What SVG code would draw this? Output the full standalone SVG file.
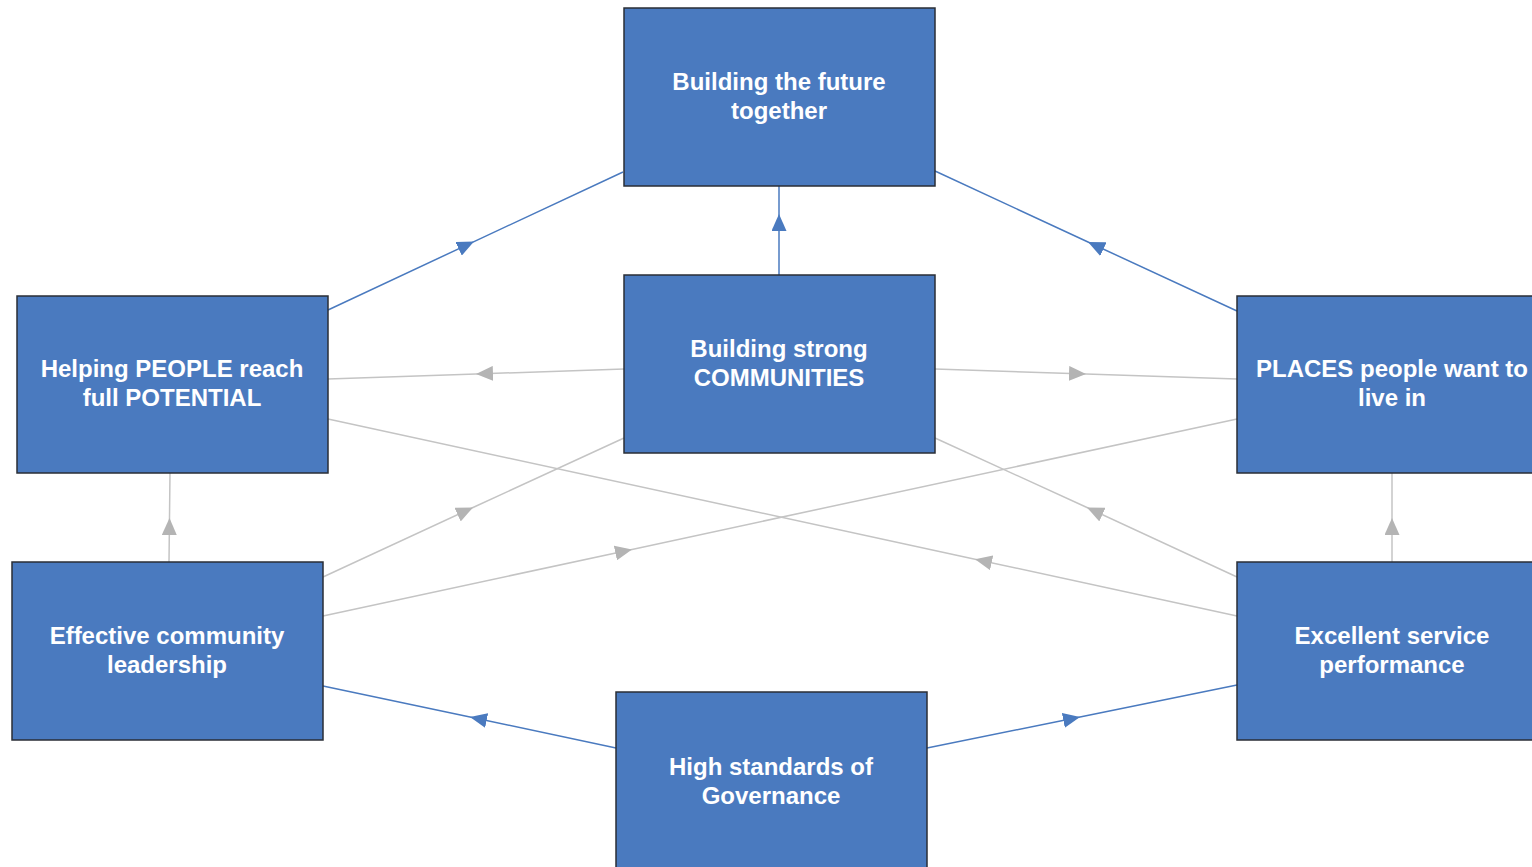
<svg xmlns="http://www.w3.org/2000/svg" width="1532" height="867" viewBox="0 0 1532 867">
<style>
.box{fill:#4a7abf;stroke:#2a2e36;stroke-width:1.5}
.lbl{font-family:"Liberation Sans",Arial,sans-serif;font-weight:bold;font-size:24px;fill:#ffffff;text-anchor:middle}
.cb{fill:none;stroke:#4a7abf;stroke-width:1.5;marker-mid:url(#ab)}
.cg{fill:none;stroke:#c4c4c4;stroke-width:1.5;marker-mid:url(#ag)}
</style>
<defs>
<marker id="ab" markerUnits="userSpaceOnUse" markerWidth="18" markerHeight="15" refX="17" refY="7.5" orient="auto"><path d="M0,0 L17,7.5 L0,15 z" fill="#4a7abf"/></marker>
<marker id="ag" markerUnits="userSpaceOnUse" markerWidth="18" markerHeight="15" refX="17" refY="7.5" orient="auto"><path d="M0,0 L17,7.5 L0,15 z" fill="#b4b4b4"/></marker>
</defs>
<rect width="1532" height="867" fill="#ffffff"/>
<g id="connectors">
<path class="cb" d="M328,310 L474,241.6 L623,172"/>
<path class="cb" d="M1237,311 L1088,242 L935,171"/>
<path class="cb" d="M779,275 L779,214 L779,186"/>
<path class="cb" d="M616,748 L470,717 L323,686"/>
<path class="cb" d="M927,748 L1080,717 L1237,685"/>
<path class="cg" d="M624,369 L476,374 L328,379"/>
<path class="cg" d="M935,369 L1086,374 L1237,379"/>
<path class="cg" d="M323,577 L473,507.5 L624,438"/>
<path class="cg" d="M1237,577 L1087,507.5 L935,438"/>
<path class="cg" d="M323,616 L632,549.4 L1237,419"/>
<path class="cg" d="M1237,616 L975,559.2 L328,419"/>
<path class="cg" d="M169,562 L169.5,518 L170,473"/>
<path class="cg" d="M1392,562 L1392,518 L1392,473"/>
</g>
<g id="n-future"><rect class="box" x="624" y="8" width="311" height="178"/><text class="lbl" x="779" y="90">Building the future</text><text class="lbl" x="779" y="119">together</text></g>
<g id="n-communities"><rect class="box" x="624" y="275" width="311" height="178"/><text class="lbl" x="779" y="357">Building strong</text><text class="lbl" x="779" y="386">COMMUNITIES</text></g>
<g id="n-people"><rect class="box" x="17" y="296" width="311" height="177"/><text class="lbl" x="172" y="377">Helping PEOPLE reach</text><text class="lbl" x="172" y="406">full POTENTIAL</text></g>
<g id="n-places"><rect class="box" x="1237" y="296" width="311" height="177"/><text class="lbl" x="1392" y="377">PLACES people want to</text><text class="lbl" x="1392" y="406">live in</text></g>
<g id="n-leadership"><rect class="box" x="12" y="562" width="311" height="178"/><text class="lbl" x="167" y="644">Effective community</text><text class="lbl" x="167" y="673">leadership</text></g>
<g id="n-service"><rect class="box" x="1237" y="562" width="311" height="178"/><text class="lbl" x="1392" y="644">Excellent service</text><text class="lbl" x="1392" y="673">performance</text></g>
<g id="n-governance"><rect class="box" x="616" y="692" width="311" height="190"/><text class="lbl" x="771" y="775">High standards of</text><text class="lbl" x="771" y="804">Governance</text></g>
</svg>
